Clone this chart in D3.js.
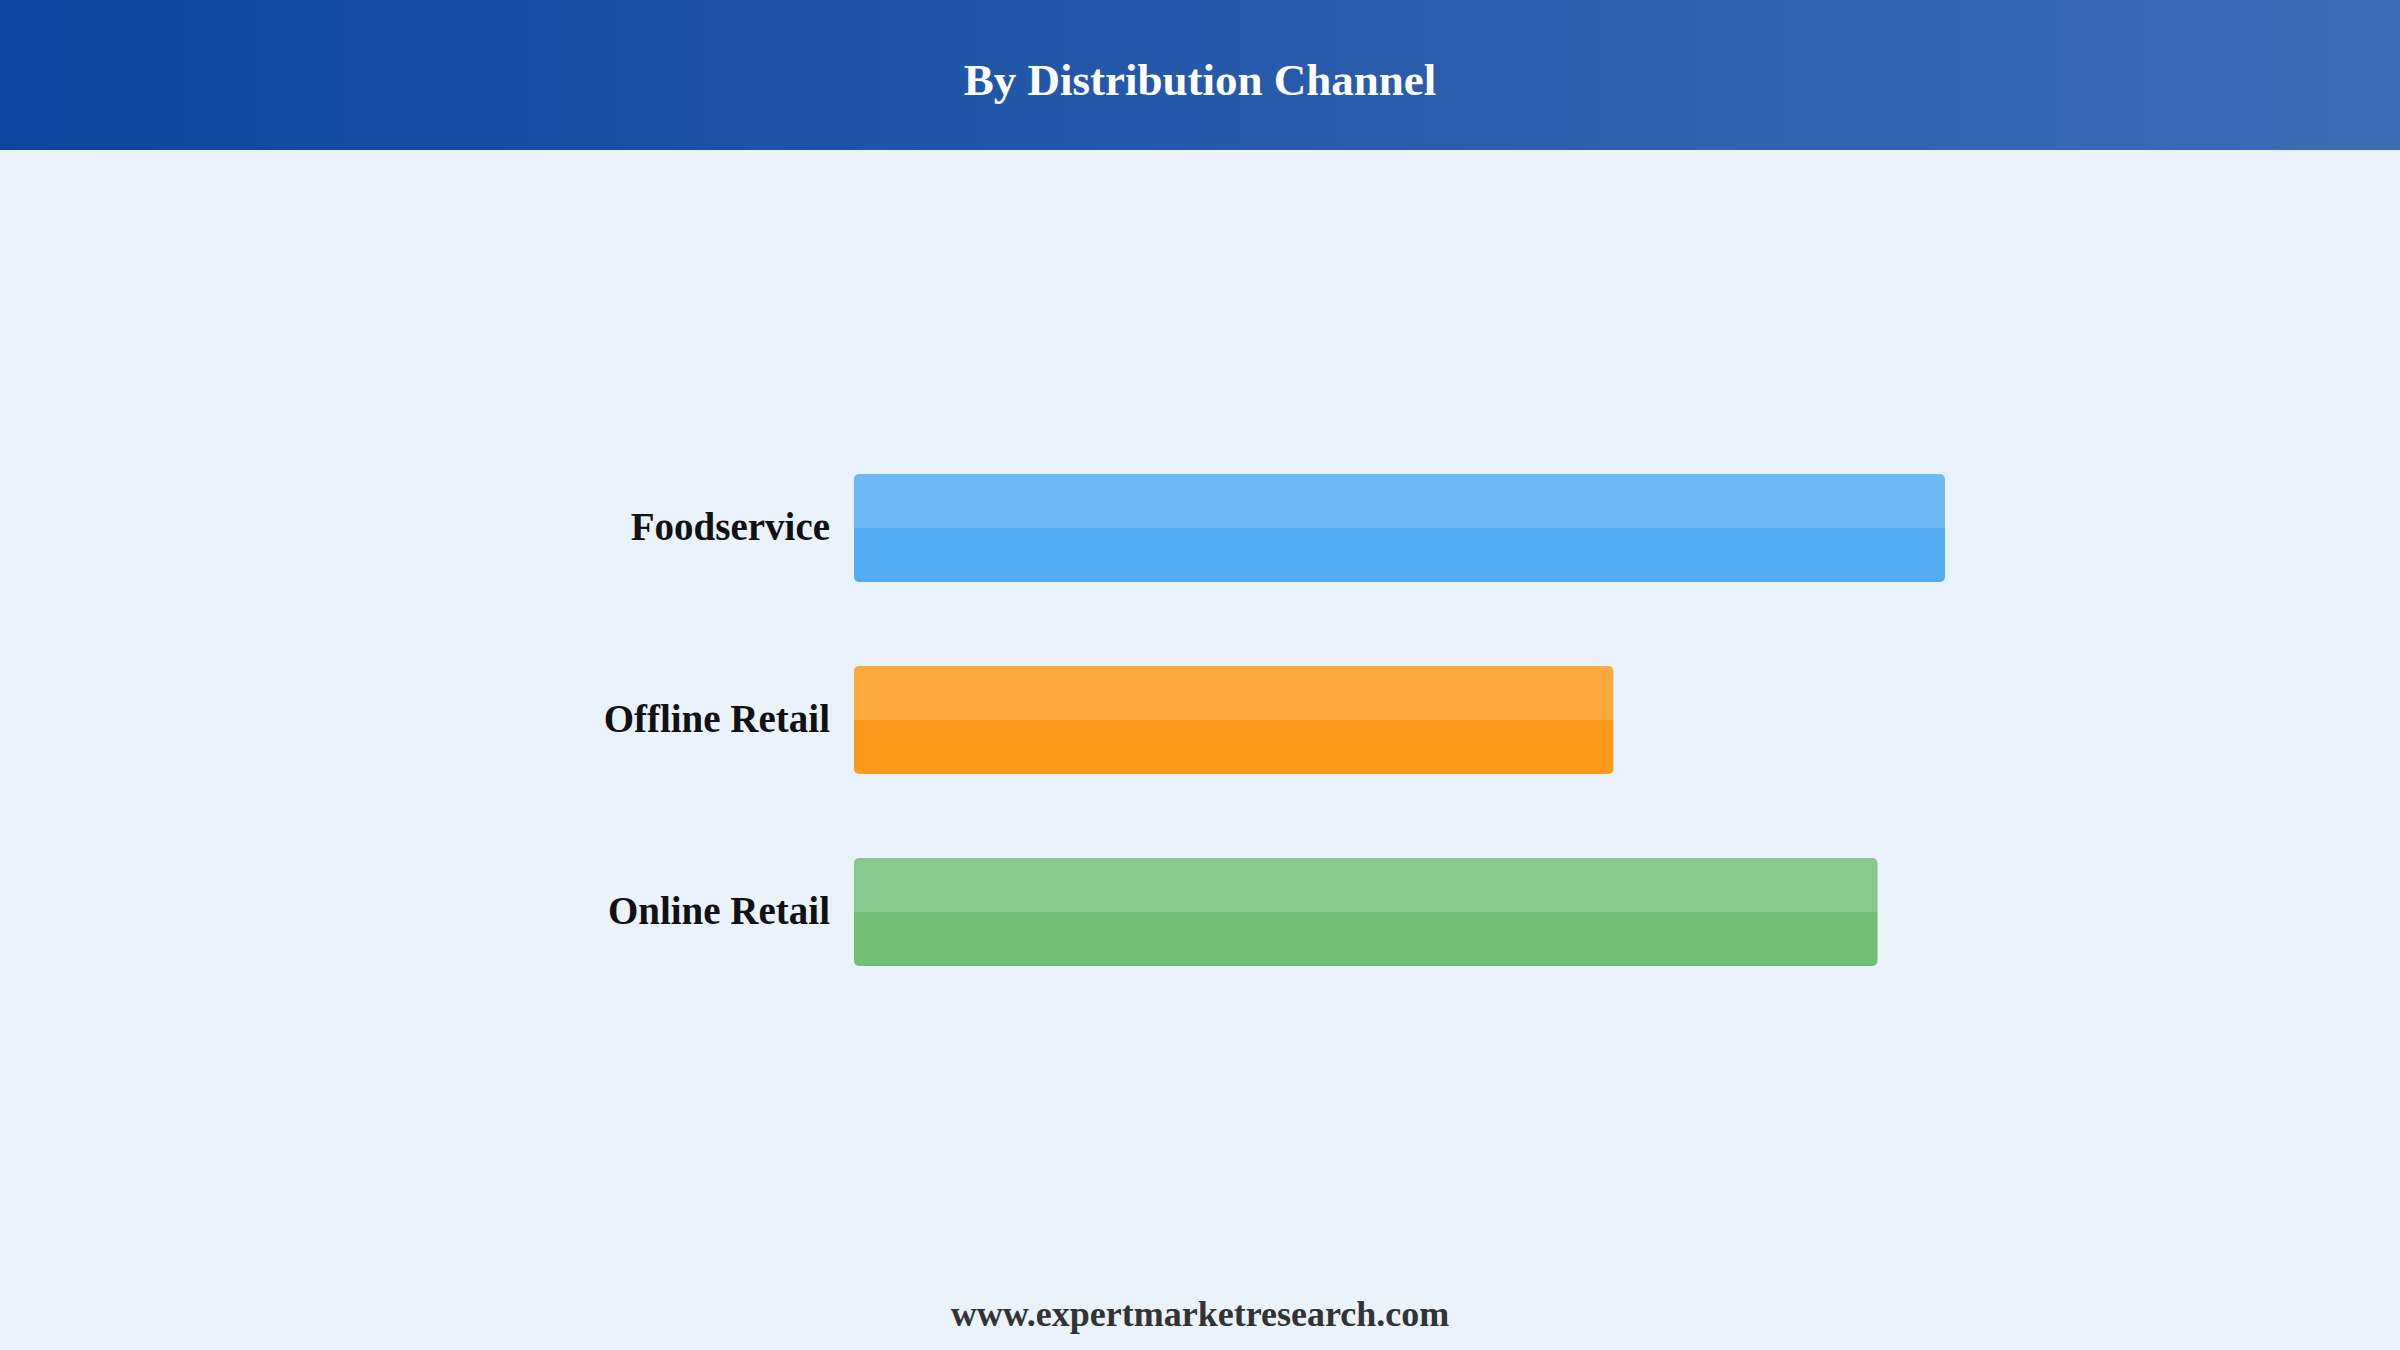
<!DOCTYPE html>
<html lang="en">
<head>
<meta charset="UTF-8">
<title>By Distribution Channel</title>
<script src="https://cdn.jsdelivr.net/npm/d3@7"></script>
<style>
  html, body { margin: 0; padding: 0; background: #EAF2FB; }
  svg { display: block; }
</style>
</head>
<body>
<svg id="chart"></svg>
<script>
// data (shares, %)
const categories = ["Foodservice", "Offline Retail", "Online Retail"];
const values = [38, 26.45, 35.65];
const colors = ["#52ADF4", "#FD9A1B", "#72C076"];
const title = "By Distribution Channel";
const footer = "www.expertmarketresearch.com";

const W = 2400, H = 1350;
const svg = d3.select("#chart").attr("width", W).attr("height", H);

const defs = svg.append("defs");

// header gradient
const hg = defs.append("linearGradient").attr("id", "header-grad")
    .attr("x1", "0%").attr("x2", "100%").attr("y1", "0%").attr("y2", "0%");
hg.append("stop").attr("offset", "0%").attr("stop-color", "#0D45A0");
hg.append("stop").attr("offset", "100%").attr("stop-color", "#3E6DB5");

// top half shine on the bars
const shine = defs.append("linearGradient").attr("id", "shine")
    .attr("x1", 0).attr("x2", 0).attr("y1", 0).attr("y2", 1);
shine.append("stop").attr("offset", "0%").attr("stop-color", "#fff").attr("stop-opacity", 0.15);
shine.append("stop").attr("offset", "50%").attr("stop-color", "#fff").attr("stop-opacity", 0.15);
shine.append("stop").attr("offset", "50%").attr("stop-color", "#fff").attr("stop-opacity", 0);
shine.append("stop").attr("offset", "100%").attr("stop-color", "#fff").attr("stop-opacity", 0);

svg.append("rect").attr("width", W).attr("height", H).attr("fill", "#EAF2FB");
svg.append("rect").attr("width", W).attr("height", 150).attr("fill", "url(#header-grad)");

svg.append("text")
    .attr("x", W / 2).attr("y", 95)
    .attr("text-anchor", "middle")
    .style("font-family", "'Liberation Serif', 'Times New Roman', serif")
    .style("font-weight", "bold")
    .style("font-size", "45px")
    .attr("fill", "#fff")
    .text(title);

// scales
const x = d3.scaleLinear().domain([0, d3.max(values)]).range([854, 1945]);
const y = d3.scaleBand().domain(categories).range([474, 966])
    .paddingInner(0.4375).paddingOuter(0);

const rows = categories.map((c, i) => ({ cat: c, val: values[i], color: colors[i] }));

const g = svg.append("g");

g.selectAll(".bar").data(rows).join("rect")
    .attr("class", "bar")
    .attr("x", x(0))
    .attr("y", d => y(d.cat))
    .attr("width", d => x(d.val) - x(0))
    .attr("height", y.bandwidth())
    .attr("rx", 5)
    .attr("fill", d => d.color);

g.selectAll(".shine").data(rows).join("rect")
    .attr("class", "shine")
    .attr("x", x(0))
    .attr("y", d => y(d.cat))
    .attr("width", d => x(d.val) - x(0))
    .attr("height", y.bandwidth())
    .attr("rx", 5)
    .attr("fill", "url(#shine)");

// category labels via a left axis
const axis = svg.append("g")
    .attr("transform", `translate(${x(0)},0)`)
    .call(d3.axisLeft(y).tickSize(0).tickPadding(24));
axis.select(".domain").remove();
axis.selectAll("text")
    .style("font-family", "'Liberation Serif', 'Times New Roman', serif")
    .style("font-weight", "bold")
    .style("font-size", "39px")
    .attr("fill", "#111");

svg.append("text")
    .attr("x", W / 2).attr("y", 1326)
    .attr("text-anchor", "middle")
    .style("font-family", "'Liberation Serif', 'Times New Roman', serif")
    .style("font-weight", "bold")
    .style("font-size", "36px")
    .attr("fill", "#333")
    .text(footer);
</script>
</body>
</html>
